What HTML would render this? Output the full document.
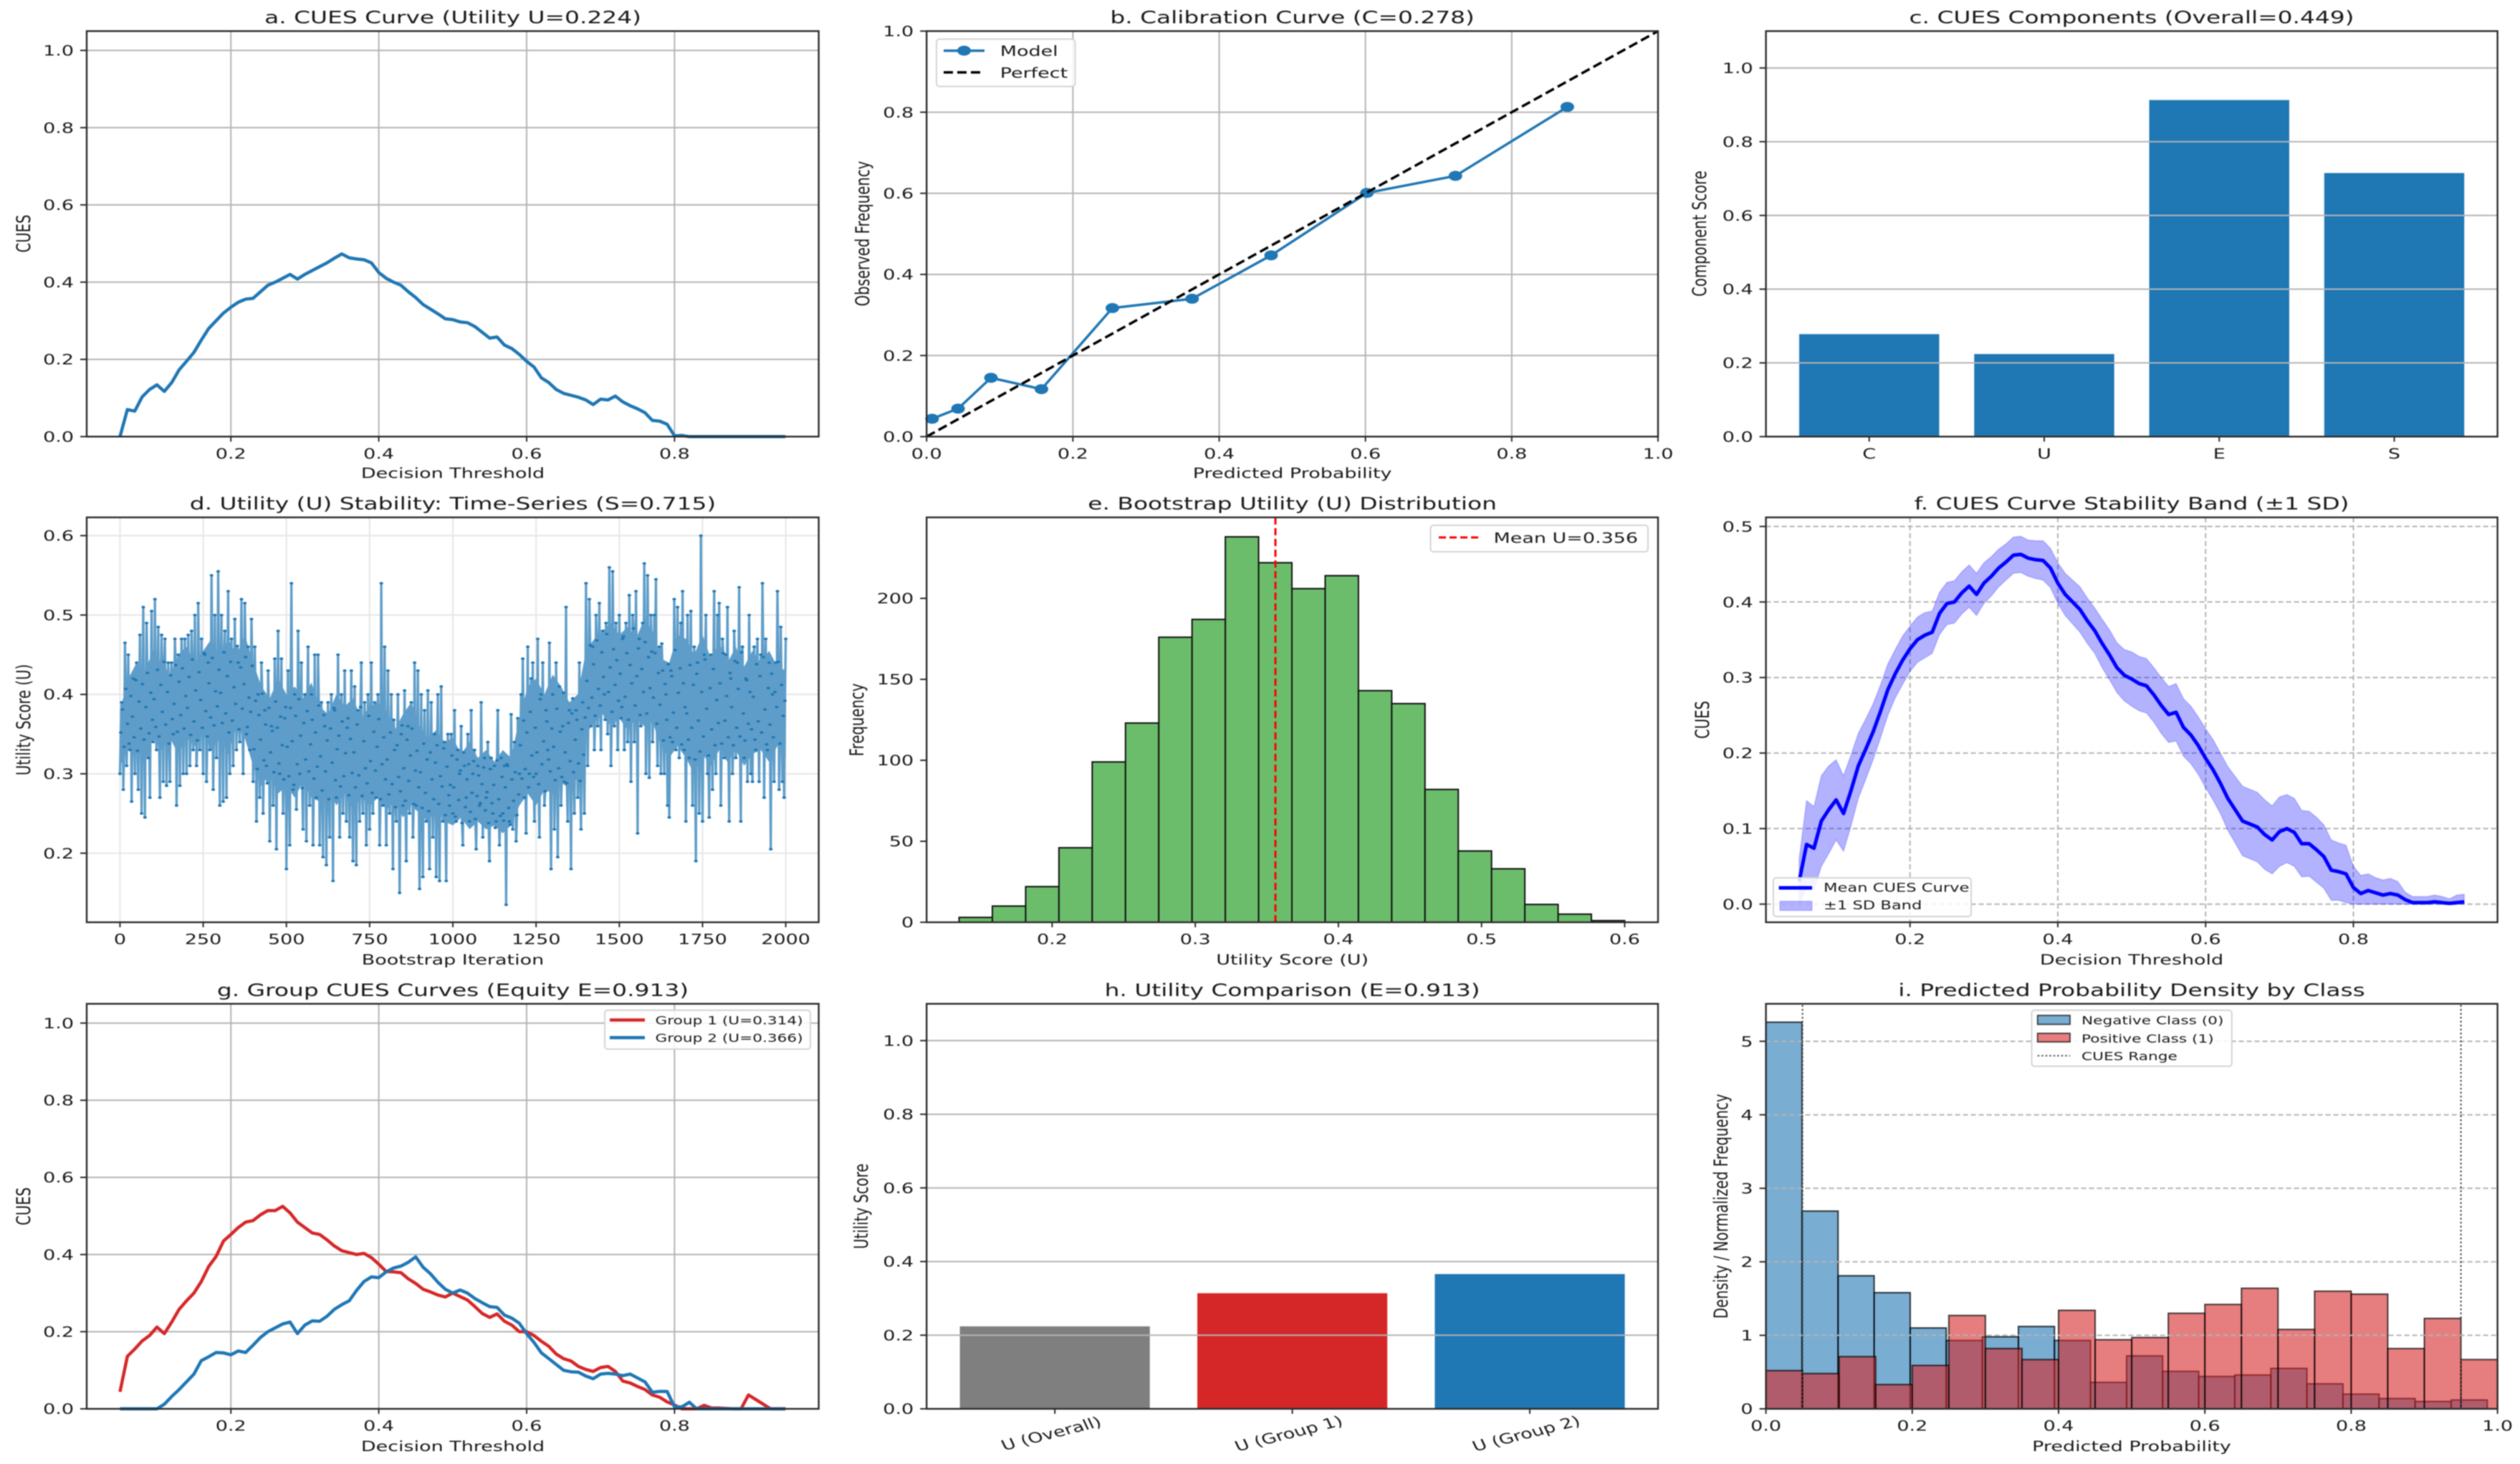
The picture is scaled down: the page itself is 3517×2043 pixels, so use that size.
<!DOCTYPE html>
<html>
<head>
<meta charset="utf-8">
<title>CUES evaluation dashboard</title>
<style>
html,body{margin:0;padding:0;background:#fff;}
svg{display:block;filter:blur(0.8px);}
text{font-family:"DejaVu Sans","Liberation Sans",sans-serif;fill:#1a1a1a;}
.title{font-size:24px;text-anchor:middle;}
.lab{font-size:19.7px;text-anchor:middle;}
.leg{font-size:19.7px;}
.legs{font-size:15.8px;}
.legm{font-size:16.5px;}
.box{fill:#fff;fill-opacity:.85;stroke:#d4d4d4;stroke-width:2;}
</style>
</head>
<body>
<svg id="chart" width="3517" height="2043" viewBox="0 0 3517 2043">
<rect x="0" y="0" width="3517" height="2043" fill="#fff"/>
<g id="plots"></g>
<g id="titles">
<text class="title" transform="translate(632,32.5) scale(1.37,1)">a. CUES Curve (Utility U=0.224)</text>
<text class="title" transform="translate(1803.6,32.5) scale(1.37,1)">b. Calibration Curve (C=0.278)</text>
<text class="title" transform="translate(2975,32.5) scale(1.37,1)">c. CUES Components (Overall=0.449)</text>
<text class="title" transform="translate(632,711) scale(1.37,1)">d. Utility (U) Stability: Time-Series (S=0.715)</text>
<text class="title" transform="translate(1803.6,711) scale(1.37,1)">e. Bootstrap Utility (U) Distribution</text>
<text class="title" transform="translate(2975,711) scale(1.37,1)">f. CUES Curve Stability Band (±1 SD)</text>
<text class="title" transform="translate(632,1390) scale(1.37,1)">g. Group CUES Curves (Equity E=0.913)</text>
<text class="title" transform="translate(1803.6,1390) scale(1.37,1)">h. Utility Comparison (E=0.913)</text>
<text class="title" transform="translate(2975,1390) scale(1.37,1)">i. Predicted Probability Density by Class</text>
</g>
<g id="axis-labels">
<text class="lab" transform="translate(632,667) scale(1.37,1)">Decision Threshold</text>
<text class="lab" transform="translate(1803.6,667) scale(1.37,1)">Predicted Probability</text>
<text class="lab" transform="translate(632,1346) scale(1.37,1)">Bootstrap Iteration</text>
<text class="lab" transform="translate(1803.6,1346) scale(1.37,1)">Utility Score (U)</text>
<text class="lab" transform="translate(2975,1346) scale(1.37,1)">Decision Threshold</text>
<text class="lab" transform="translate(632,2025) scale(1.37,1)">Decision Threshold</text>
<text class="lab" transform="translate(2975,2025) scale(1.37,1)">Predicted Probability</text>
<text class="lab" transform="translate(42,326) scale(1.37,1) rotate(-90)">CUES</text>
<text class="lab" transform="translate(1213,326) scale(1.37,1) rotate(-90)">Observed Frequency</text>
<text class="lab" transform="translate(2381,326) scale(1.37,1) rotate(-90)">Component Score</text>
<text class="lab" transform="translate(42,1004.5) scale(1.37,1) rotate(-90)">Utility Score (U)</text>
<text class="lab" transform="translate(1205,1004.5) scale(1.37,1) rotate(-90)">Frequency</text>
<text class="lab" transform="translate(2385,1004.5) scale(1.37,1) rotate(-90)">CUES</text>
<text class="lab" transform="translate(42,1683.4) scale(1.37,1) rotate(-90)">CUES</text>
<text class="lab" transform="translate(1211,1683.4) scale(1.37,1) rotate(-90)">Utility Score</text>
<text class="lab" transform="translate(2411,1683.4) scale(1.37,1) rotate(-90)">Density / Normalized Frequency</text>
</g>
<g id="legends">
<g>
<rect class="box" x="1307" y="54.6" width="193.5" height="66" rx="4"/>
<line x1="1317" x2="1374" y1="70.7" y2="70.7" stroke="#1f77b4" stroke-width="3.5"/>
<ellipse cx="1345.5" cy="70.7" rx="9.5" ry="7" fill="#1f77b4"/>
<text class="leg" transform="translate(1395.7,78) scale(1.37,1)">Model</text>
<line x1="1317" x2="1374" y1="101" y2="101" stroke="#000" stroke-width="3.5" stroke-dasharray="13 6"/>
<text class="leg" transform="translate(1395.7,108.4) scale(1.37,1)">Perfect</text>
</g>
<g>
<rect class="box" x="1996.5" y="733" width="303.5" height="37" rx="4"/>
<line x1="2008" x2="2063" y1="750" y2="750" stroke="#f00" stroke-width="3" stroke-dasharray="10 5"/>
<text class="leg" transform="translate(2084.5,757.6) scale(1.37,1)">Mean U=0.356</text>
</g>
<g>
<rect class="box" x="2475" y="1225" width="276" height="54" rx="4"/>
<line x1="2482.6" x2="2529" y1="1239" y2="1239" stroke="#00f" stroke-width="5"/>
<text class="legm" transform="translate(2545,1244.6) scale(1.37,1)">Mean CUES Curve</text>
<rect x="2484" y="1257.6" width="45" height="13" fill="#00f" fill-opacity=".3" stroke="#00f" stroke-opacity=".25"/>
<text class="legm" transform="translate(2545,1269) scale(1.37,1)">±1 SD Band</text>
</g>
<g>
<rect class="box" x="844" y="1409.7" width="287" height="54.3" rx="4"/>
<line x1="851" x2="900" y1="1423.4" y2="1423.4" stroke="#d62728" stroke-width="4.5"/>
<text class="legs" transform="translate(914.5,1429.6) scale(1.37,1)">Group 1 (U=0.314)</text>
<line x1="851" x2="900" y1="1448" y2="1448" stroke="#1f77b4" stroke-width="4.5"/>
<text class="legs" transform="translate(914.5,1454) scale(1.37,1)">Group 2 (U=0.366)</text>
</g>
<g>
<rect class="box" x="2835.5" y="1409.7" width="279.3" height="78.3" rx="4"/>
<rect x="2843.7" y="1417" width="45.3" height="12.5" fill="#1f77b4" fill-opacity=".6" stroke="#000" stroke-opacity=".7" stroke-width="1.8"/>
<text class="legs" transform="translate(2905,1429.6) scale(1.37,1)">Negative Class (0)</text>
<rect x="2843.7" y="1442" width="45.3" height="12" fill="#d62728" fill-opacity=".6" stroke="#000" stroke-opacity=".7" stroke-width="1.8"/>
<text class="legs" transform="translate(2905,1455) scale(1.37,1)">Positive Class (1)</text>
<line x1="2843.7" x2="2889" y1="1473.3" y2="1473.3" stroke="#555" stroke-width="2" stroke-dasharray="2.5 3"/>
<text class="legs" transform="translate(2905,1479.5) scale(1.37,1)">CUES Range</text>
</g>
</g>
</svg>
<script>
// ---------- shared categories ----------
const thresholds = [
.05,.06,.07,.08,.09,.10,.11,.12,.13,.14,
.15,.16,.17,.18,.19,.20,.21,.22,.23,.24,
.25,.26,.27,.28,.29,.30,.31,.32,.33,.34,
.35,.36,.37,.38,.39,.40,.41,.42,.43,.44,
.45,.46,.47,.48,.49,.50,.51,.52,.53,.54,
.55,.56,.57,.58,.59,.60,.61,.62,.63,.64,
.65,.66,.67,.68,.69,.70,.71,.72,.73,.74,
.75,.76,.77,.78,.79,.80,.81,.82,.83,.84,
.85,.86,.87,.88,.89,.90,.91,.92,.93,.94,
.95];
// ---------- panel a ----------
const cuesOverall = [
0,.07,.066,.103,.122,.134,.117,.14,.173,.195,
.218,.25,.28,.30,.32,.335,.348,.356,.358,.375,
.392,.40,.41,.42,.408,.42,.43,.44,.45,.462,
.473,.463,.46,.458,.45,.425,.41,.40,.392,.375,
.36,.342,.33,.318,.305,.303,.297,.295,.285,.27,
.255,.258,.237,.228,.213,.195,.18,.152,.14,.122,
.112,.107,.102,.095,.083,.097,.095,.105,.09,.08,
.072,.062,.042,.04,.032,.002,.003,0,0,0,
0,0,0,0,0,0,0,0,0,0,
0];
// ---------- panel b ----------
const calibPredicted = [.0075,.043,.088,.157,.254,.363,.471,.602,.723,.876];
const calibObserved = [.044,.069,.145,.117,.317,.34,.447,.601,.643,.813];
const perfectLine = [0,1];
// ---------- panel c ----------
const componentNames = ['C','U','E','S'];
const componentScores = [.278,.224,.913,.715];
// ---------- panel d (sampled every 5 iterations, plus in-between samples) ----------
const iterationStep = 5;
const utilityStability = [
.30,.39,.28,.465,.31,.45,.33,.265,.42,.30,.44,.28,.475,.25,.51,.245,.49,.32,.27,.505,
.34,.52,.33,.485,.27,.475,.29,.47,.285,.44,.29,.44,.35,.47,.26,.45,.285,.47,.30,.47,
.30,.475,.31,.48,.33,.50,.31,.515,.33,.47,.30,.45,.29,.44,.33,.55,.28,.50,.32,.555,
.26,.50,.265,.48,.27,.53,.30,.47,.31,.495,.33,.44,.34,.52,.30,.515,.35,.46,.33,.495,
.29,.46,.24,.40,.27,.44,.25,.38,.31,.43,.215,.36,.26,.445,.205,.48,.30,.445,.25,.37,
.18,.43,.21,.54,.28,.40,.255,.48,.30,.44,.23,.40,.215,.46,.26,.40,.21,.45,.27,.45,
.21,.39,.195,.36,.185,.39,.22,.40,.165,.38,.27,.45,.22,.40,.25,.43,.24,.37,.22,.43,
.19,.41,.185,.38,.24,.44,.25,.39,.21,.40,.23,.44,.25,.39,.27,.40,.21,.54,.26,.46,
.21,.43,.25,.40,.18,.33,.24,.40,.15,.35,.26,.405,.19,.36,.25,.39,.22,.44,.26,.43,
.155,.40,.17,.38,.24,.405,.18,.39,.22,.35,.17,.40,.165,.41,.24,.34,.165,.35,.26,.35,
.25,.38,.24,.33,.30,.36,.21,.31,.27,.35,.24,.38,.30,.33,.205,.31,.26,.39,.22,.32,
.27,.34,.19,.32,.25,.31,.24,.38,.21,.32,.25,.31,.135,.31,.24,.375,.23,.34,.215,.37,
.30,.40,.445,.27,.225,.46,.30,.42,.44,.24,.30,.47,.22,.40,.44,.26,.38,.33,.465,.18,
.40,.23,.44,.195,.41,.26,.36,.29,.51,.24,.38,.18,.395,.25,.38,.27,.44,.23,.39,.25,
.54,.31,.52,.36,.46,.33,.50,.36,.515,.33,.48,.40,.49,.35,.56,.31,.555,.36,.49,.33,
.50,.37,.47,.33,.49,.34,.525,.29,.50,.34,.53,.225,.47,.36,.49,.565,.30,.55,.295,.50,
.34,.50,.545,.31,.46,.30,.43,.30,.40,.26,.245,.43,.34,.52,.33,.51,.32,.49,.53,.33,
.24,.50,.32,.505,.26,.46,.19,.44,.25,.60,.24,.45,.50,.30,.245,.45,.28,.53,.30,.50,
.515,.26,.47,.32,.45,.51,.24,.42,.30,.48,.32,.44,.535,.24,.46,.32,.42,.29,.50,.30,
.29,.46,.33,.47,.29,.45,.54,.27,.47,.33,.44,.205,.40,.29,.44,.53,.28,.485,.29,.27,
.47];
const utilityStabilityMid = [
.352,.381,.334,.407,.363,.338,.398,.372,.346,.418,.329,.391,.357,.413,.343,.384,.427,.351,.402,.368,
.394,.359,.431,.347,.412,.378,.441,.362,.403,.338,.424,.369,.388,.437,.353,.416,.374,.433,.357,.398,
.383,.422,.349,.444,.366,.405,.342,.428,.393,.358,.452,.379,.347,.414,.371,.446,.361,.404,.385,.431,
.402,.364,.453,.376,.423,.352,.441,.367,.409,.388,.461,.356,.434,.382,.413,.447,.359,.396,.378,.436,
.331,.392,.306,.374,.343,.401,.317,.362,.288,.383,.327,.354,.302,.391,.358,.313,.372,.336,.293,.384,
.334,.297,.383,.341,.286,.373,.312,.394,.348,.282,.364,.318,.379,.303,.337,.368,.294,.352,.309,.386,
.322,.279,.374,.303,.342,.268,.357,.314,.383,.292,.331,.348,.284,.366,.297,.326,.358,.273,.344,.301,
.327,.283,.362,.298,.384,.272,.341,.307,.288,.373,.316,.276,.353,.304,.334,.369,.268,.312,.346,.293,
.318,.274,.352,.287,.368,.258,.336,.296,.278,.361,.307,.266,.343,.291,.323,.357,.262,.304,.329,.283,
.302,.257,.338,.276,.318,.253,.327,.293,.268,.314,.336,.262,.297,.284,.332,.248,.309,.273,.286,.323,
.283,.246,.318,.267,.304,.238,.327,.258,.293,.312,.252,.276,.316,.243,.272,.298,.263,.287,.308,.254,
.277,.238,.306,.263,.286,.232,.317,.268,.247,.296,.241,.283,.312,.257,.236,.293,.266,.302,.248,.274,
.336,.294,.367,.306,.352,.283,.378,.323,.296,.358,.327,.287,.394,.312,.341,.278,.366,.318,.303,.357,
.334,.292,.382,.307,.353,.296,.402,.327,.288,.364,.316,.376,.302,.343,.368,.313,.291,.356,.324,.371,
.417,.383,.462,.396,.438,.373,.468,.407,.386,.453,.422,.368,.476,.403,.434,.378,.457,.412,.443,.392,
.426,.384,.473,.397,.452,.368,.437,.414,.483,.386,.423,.458,.374,.432,.403,.466,.376,.447,.408,.454,
.396,.452,.363,.427,.387,.464,.342,.413,.368,.438,.346,.423,.377,.456,.358,.402,.433,.337,.414,.384,
.376,.343,.437,.358,.412,.318,.426,.367,.328,.403,.347,.444,.382,.323,.408,.356,.432,.336,.393,.364,
.414,.338,.452,.367,.398,.346,.427,.384,.336,.442,.358,.407,.347,.453,.376,.342,.418,.363,.403,.356,
.397,.343,.438,.366,.423,.352,.447,.381,.337,.408,.362,.426,.346,.403,.384,.441,.338,.412,.373,.392];
const coreStep = 25;
const coreUpper = [
.38,.42,.44,.43,.455,.44,.425,.45,.46,.44,.455,.47,.445,.47,.45,.475,
.44,.41,.395,.42,.40,.41,.395,.415,.385,.375,.40,.385,.395,.37,.385,.39,
.38,.355,.375,.39,.36,.345,.355,.34,.345,.325,.34,.32,.33,.315,.33,.32,
.37,.41,.42,.40,.425,.41,.39,.40,.455,.47,.48,.49,.475,.485,.47,.495,
.48,.445,.44,.475,.47,.45,.475,.445,.465,.44,.46,.435,.455,.44,.455,.435,.43];
const coreLower = [
.31,.33,.34,.315,.345,.33,.345,.325,.345,.335,.35,.33,.345,.325,.36,.345,
.31,.285,.30,.275,.285,.27,.29,.27,.265,.28,.26,.275,.255,.27,.26,.27,
.255,.265,.245,.26,.25,.24,.255,.24,.235,.245,.23,.24,.23,.235,.225,.235,
.26,.275,.26,.28,.275,.29,.28,.295,.35,.365,.375,.36,.37,.355,.37,.36,
.365,.335,.32,.335,.32,.30,.325,.31,.33,.315,.33,.31,.325,.33,.315,.335,.32];
// ---------- panel e ----------
const utilityBinRange = [.135,.6];
const utilityCounts = [3,10,22,46,99,123,176,187,238,222,206,214,143,135,82,44,33,11,5,1];
const meanUtility = [.356];
// ---------- panel f ----------
const cuesMean = [
.03,.079,.074,.11,.125,.138,.12,.15,.183,.205,
.228,.255,.284,.305,.323,.338,.35,.356,.36,.385,
.398,.40,.412,.421,.41,.425,.434,.445,.453,.462,
.463,.458,.456,.455,.445,.425,.41,.40,.39,.375,
.362,.345,.33,.313,.303,.298,.292,.289,.277,.263,
.251,.254,.234,.224,.21,.193,.178,.16,.14,.125,
.11,.106,.102,.092,.085,.096,.1,.095,.08,.08,
.072,.063,.045,.043,.04,.022,.014,.018,.015,.012,
.014,.012,.006,.002,.002,.002,.003,.002,.001,.002,
.003];
const cuesSd = [
.03,.058,.055,.06,.058,.053,.05,.047,.043,.04,
.037,.035,.034,.032,.032,.03,.03,.03,.028,.028,
.028,.028,.028,.028,.028,.027,.026,.025,.024,.024,
.024,.024,.025,.026,.026,.027,.028,.029,.03,.03,
.03,.032,.033,.033,.034,.036,.036,.036,.036,.037,
.037,.038,.038,.038,.038,.039,.04,.04,.042,.044,
.046,.046,.046,.046,.045,.046,.045,.045,.044,.043,
.043,.042,.04,.038,.038,.028,.024,.022,.02,.02,
.02,.018,.01,.008,.008,.008,.009,.008,.006,.01,
.01];
// ---------- panel g ----------
const cuesGroup1 = [
.044,.136,.155,.176,.19,.212,.195,.225,.258,.28,
.30,.33,.369,.395,.435,.452,.47,.484,.488,.503,
.514,.514,.525,.508,.484,.47,.456,.452,.438,.422,
.41,.405,.40,.403,.392,.375,.356,.355,.353,.337,
.325,.31,.303,.295,.29,.30,.291,.282,.265,.247,
.237,.246,.227,.217,.2,.2,.19,.175,.162,.142,
.13,.124,.11,.102,.097,.107,.11,.097,.072,.067,
.058,.05,.036,.03,.018,.01,0,0,0,.009,
.002,.002,.001,0,0,.036,.024,.012,0,0,
0];
const cuesGroup2 = [
0,0,0,0,0,0,.012,.032,.05,.07,
.09,.125,.135,.146,.145,.14,.15,.146,.165,.185,
.2,.21,.22,.225,.195,.217,.228,.227,.24,.258,
.27,.28,.307,.33,.342,.34,.355,.365,.37,.38,
.394,.367,.35,.328,.31,.30,.308,.30,.286,.275,
.265,.263,.243,.235,.222,.195,.172,.145,.13,.115,
.10,.096,.095,.085,.078,.09,.092,.09,.086,.09,
.08,.07,.043,.045,.045,.005,.005,.017,0,0,
0,0,0,0,0,0,0,0,0,0,
0];
// ---------- panel h ----------
const utilityNames = ['U (Overall)','U (Group 1)','U (Group 2)'];
const utilityValues = [.224,.314,.366];
const utilityColors = ['#7f7f7f','#d62728','#1f77b4'];
// ---------- panel i ----------
const negativeBinRange = [0,.986];
const negativeDensity = [5.26,2.69,1.81,1.58,1.10,.93,.98,1.12,.93,.36,.72,.51,.44,.46,.55,.34,.20,.14,.10,.12];
const positiveBinRange = [0,1];
const positiveDensity = [.52,.48,.71,.33,.59,1.27,.82,.67,1.34,.94,.97,1.30,1.42,1.64,1.08,1.60,1.56,.82,1.23,.67];
const cuesRange = [.05,.95];
// ---------- ticks ----------
const thresholdTicks = [.2,.4,.6,.8];
const unitTicks = [0,.2,.4,.6,.8,1];
const iterationTicks = [0,250,500,750,1000,1250,1500,1750,2000];
const stabilityTicks = [.2,.3,.4,.5,.6];
const utilityScoreTicks = [.2,.3,.4,.5,.6];
const frequencyTicks = [0,50,100,150,200];
const bandTicks = [0,.1,.2,.3,.4,.5];
const densityTicks = [0,1,2,3,4,5];

const plots = document.getElementById('plots');
const NS = plots.namespaceURI;
const SX = 1.37;

function mk(tag, parent, attrs, name) {
  const el = document.createElementNS(NS, tag);
  for (const k in attrs) el.setAttribute(k, attrs[k]);
  
  
  parent.appendChild(el);
  return el;
}
function axes(name, box, xd, yd) {
  const g = mk('g', plots, {}, name);
  return {
    name, g, box,
    x: v => box.L + (v - xd[0]) / (xd[1] - xd[0]) * (box.R - box.L),
    y: v => box.B - (v - yd[0]) / (yd[1] - yd[0]) * (box.B - box.T)
  };
}
function label(ax, txt, tx, ty, anchor, rot, name) {
  const t = mk('text', ax.g, {
    transform: 'translate(' + tx + ',' + ty + ') scale(' + SX + ',1)' + (rot ? ' rotate(' + rot + ')' : ''),
    'text-anchor': anchor, 'font-size': 19.7
  }, name);
  t.textContent = txt;
}
function grid(ax, xt, yt, style) {
  xt.forEach(v => mk('line', ax.g, Object.assign({x1: ax.x(v), x2: ax.x(v), y1: ax.box.T, y2: ax.box.B}, style), ax.name + '-gridline-x'));
  yt.forEach(v => mk('line', ax.g, Object.assign({x1: ax.box.L, x2: ax.box.R, y1: ax.y(v), y2: ax.y(v)}, style), ax.name + '-gridline-y'));
}
function frame(ax, xt, xl, yt, yl) {
  const b = ax.box;
  mk('rect', ax.g, {x: b.L, y: b.T, width: b.R - b.L, height: b.B - b.T, fill: 'none', stroke: '#2b2b2b', 'stroke-width': 2.4}, ax.name + '-frame');
  xt.forEach((v, i) => {
    mk('line', ax.g, {x1: ax.x(v), x2: ax.x(v), y1: b.B, y2: b.B + 7, stroke: '#2b2b2b', 'stroke-width': 2}, ax.name + '-x-tick');
    if (xl) label(ax, xl[i], ax.x(v), b.B + 30.5, 'middle', 0, ax.name + '-x-tick-label');
  });
  yt.forEach((v, i) => {
    mk('line', ax.g, {x1: b.L - 9, x2: b.L, y1: ax.y(v), y2: ax.y(v), stroke: '#2b2b2b', 'stroke-width': 2}, ax.name + '-y-tick');
    label(ax, yl[i], b.L - 18, ax.y(v) + 7.2, 'end', 0, ax.name + '-y-tick-label');
  });
}
function pathOf(ax, xs, ys) {
  return xs.map((v, i) => (i ? 'L' : 'M') + ax.x(v).toFixed(2) + ' ' + ax.y(ys[i]).toFixed(2)).join('');
}
function curve(ax, xs, ys, style, name) {
  return mk('path', ax.g, Object.assign({d: pathOf(ax, xs, ys), fill: 'none', 'stroke-linejoin': 'round'}, style), name);
}
function bars(ax, centers, vals, width, fills, name) {
  vals.forEach((v, i) => {
    mk('rect', ax.g, {x: ax.x(centers[i] - width / 2), y: ax.y(v), width: ax.x(centers[i] + width / 2) - ax.x(centers[i] - width / 2), height: ax.y(0) - ax.y(v), fill: fills[i]}, name + '-' + i);
  });
}
function hist(ax, range, vals, style, name) {
  const w = (range[1] - range[0]) / vals.length;
  vals.forEach((v, i) => {
    const a = range[0] + i * w, b = a + w;
    mk('rect', ax.g, Object.assign({x: ax.x(a), y: ax.y(v), width: ax.x(b) - ax.x(a), height: ax.y(0) - ax.y(v)}, style), name + '-' + i);
  });
}
const f1 = v => v.toFixed(1);
const f0 = v => String(v);
const solidGrid = {stroke: '#b4b4b4', 'stroke-width': 2};
const dashGrid = {stroke: '#b4b4b4', 'stroke-width': 2, 'stroke-dasharray': '7 4'};
const cols = [{L: 121, R: 1142.6}, {L: 1293.2, R: 2314}, {L: 2464.6, R: 3485.6}];
const rows = [{T: 43.4, B: 609.3}, {T: 722, B: 1287}, {T: 1400.8, B: 1966}];
const boxOf = (c, r) => ({L: cols[c].L, R: cols[c].R, T: rows[r].T, B: rows[r].B});
const thrX = [.005, .995];

// a
const axA = axes('panel-a', boxOf(0, 0), thrX, [0, 1.05]);
grid(axA, thresholdTicks, unitTicks, solidGrid);
curve(axA, thresholds, cuesOverall, {stroke: '#1f77b4', 'stroke-width': 4.5}, 'cues-curve');
frame(axA, thresholdTicks, thresholdTicks.map(f1), unitTicks, unitTicks.map(f1));

// b
const axB = axes('panel-b', boxOf(1, 0), [0, 1], [0, 1]);
grid(axB, unitTicks, unitTicks, solidGrid);
curve(axB, calibPredicted, calibObserved, {stroke: '#1f77b4', 'stroke-width': 3.5}, 'calibration-line');
calibPredicted.forEach((v, i) => {
  mk('ellipse', axB.g, {cx: axB.x(v), cy: axB.y(calibObserved[i]), rx: 9.5, ry: 7, fill: '#1f77b4'}, 'calibration-point-' + i);
});
curve(axB, perfectLine, perfectLine, {stroke: '#000', 'stroke-width': 3.5, 'stroke-dasharray': '13 6'}, 'perfect-calibration-line');
frame(axB, unitTicks, unitTicks.map(f1), unitTicks, unitTicks.map(f1));

// c
const axC = axes('panel-c', boxOf(2, 0), [-.59, 3.59], [0, 1.1]);
bars(axC, componentNames.map((n, i) => i), componentScores, .8, componentNames.map(() => '#1f77b4'), 'component-bar');
grid(axC, [], unitTicks, solidGrid);
frame(axC, componentNames.map((n, i) => i), componentNames, unitTicks, unitTicks.map(f1));

// d
const axD = axes('panel-d', boxOf(0, 1), [-99.95, 2098.95], [.113, .623]);
grid(axD, iterationTicks, stabilityTicks, {stroke: '#e6e6e6', 'stroke-width': 2});
const coreIterations = coreUpper.map((v, i) => i * coreStep);
mk('path', axD.g, {d: pathOf(axD, coreIterations, coreUpper) + pathOf(axD, coreIterations.slice().reverse(), coreLower.slice().reverse()).replace('M', 'L') + 'Z', fill: '#5e9dc9'}, 'utility-dense-core');
const iterations = [];
const utilityMerged = [];
utilityStability.forEach((v, i) => {
  iterations.push(i * iterationStep);
  utilityMerged.push(v);
  if (i < utilityStabilityMid.length) {
    iterations.push((i + 0.5) * iterationStep);
    utilityMerged.push(utilityStabilityMid[i]);
  }
});
curve(axD, iterations, utilityMerged, {stroke: '#5e9dc9', 'stroke-width': 3.3}, 'utility-series-line');
utilityMerged.forEach((v, i) => {
  mk('ellipse', axD.g, {cx: axD.x(iterations[i]), cy: axD.y(v), rx: 2.6, ry: 1.8, fill: '#1f77b4'}, 'utility-point-' + i);
});
frame(axD, iterationTicks, iterationTicks.map(f0), stabilityTicks, stabilityTicks.map(f1));

// e
const axE = axes('panel-e', boxOf(1, 1), [.1123, .6233], [0, 250]);
hist(axE, utilityBinRange, utilityCounts, {fill: '#6bbd6b', stroke: '#111', 'stroke-width': 2}, 'utility-hist-bar');
curve(axE, [meanUtility[0], meanUtility[0]], [0, 250], {stroke: '#f00', 'stroke-width': 3, 'stroke-dasharray': '10 5'}, 'mean-utility-line');
frame(axE, utilityScoreTicks, utilityScoreTicks.map(f1), frequencyTicks, frequencyTicks.map(f0));

// f
const axF = axes('panel-f', boxOf(2, 1), thrX, [-.024, .512]);
grid(axF, thresholdTicks, bandTicks, dashGrid);
const bandUpper = cuesMean.map((m, i) => m + cuesSd[i]);
const bandLower = cuesMean.map((m, i) => Math.max(0, m - cuesSd[i]));
mk('path', axF.g, {d: pathOf(axF, thresholds, bandUpper) + pathOf(axF, thresholds.slice().reverse(), bandLower.slice().reverse()).replace('M', 'L') + 'Z', fill: '#00f', 'fill-opacity': .3, stroke: '#00f', 'stroke-opacity': .2, 'stroke-width': 1.5}, 'sd-band');
curve(axF, thresholds, cuesMean, {stroke: '#00f', 'stroke-width': 5}, 'mean-cues-curve');
frame(axF, thresholdTicks, thresholdTicks.map(f1), bandTicks, bandTicks.map(f1));

// g
const axG = axes('panel-g', boxOf(0, 2), thrX, [0, 1.05]);
grid(axG, thresholdTicks, unitTicks, solidGrid);
curve(axG, thresholds, cuesGroup1, {stroke: '#d62728', 'stroke-width': 4.5}, 'group-1-curve');
curve(axG, thresholds, cuesGroup2, {stroke: '#1f77b4', 'stroke-width': 4.5}, 'group-2-curve');
frame(axG, thresholdTicks, thresholdTicks.map(f1), unitTicks, unitTicks.map(f1));

// h
const axH = axes('panel-h', boxOf(1, 2), [-.54, 2.54], [0, 1.1]);
bars(axH, utilityNames.map((n, i) => i), utilityValues, .8, utilityColors, 'utility-bar');
grid(axH, [], unitTicks, solidGrid);
frame(axH, utilityNames.map((n, i) => i), null, unitTicks, unitTicks.map(f1));
utilityNames.forEach((n, i) => {
  label(axH, n, axH.x(i) - 2, 2007, 'middle', -19, 'utility-bar-label');
});

// i
const axI = axes('panel-i', boxOf(2, 2), [0, 1], [0, 5.51]);
hist(axI, negativeBinRange, negativeDensity, {fill: '#1f77b4', 'fill-opacity': .6, stroke: '#000', 'stroke-opacity': .75, 'stroke-width': 2}, 'negative-density-bar');
hist(axI, positiveBinRange, positiveDensity, {fill: '#d62728', 'fill-opacity': .6, stroke: '#000', 'stroke-opacity': .7, 'stroke-width': 2}, 'positive-density-bar');
grid(axI, [], densityTicks, dashGrid);
cuesRange.forEach(v => {
  curve(axI, [v, v], [0, 5.51], {stroke: '#444', 'stroke-width': 2, 'stroke-dasharray': '2.5 3'}, 'cues-range-line');
});
frame(axI, unitTicks, unitTicks.map(f1), densityTicks, densityTicks.map(f0));
</script>
</body>
</html>
